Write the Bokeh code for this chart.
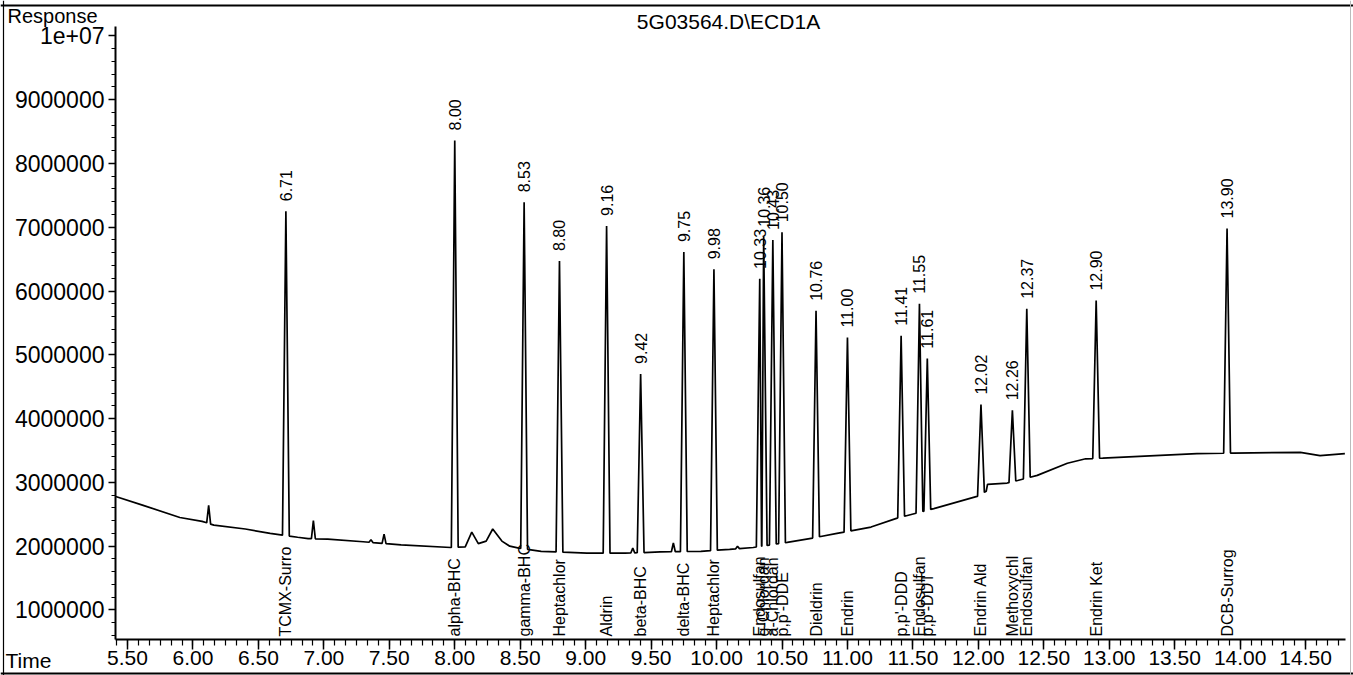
import numpy as np
from bokeh.plotting import figure
from bokeh.models import Range1d, FixedTicker, Label, Span
from bokeh.embed import file_html
from bokeh.resources import INLINE
from bokeh.core.properties import value

# ---------------- data ----------------
# baseline (time in min, response)
base_time = [5.41, 5.62, 5.90, 6.07, 6.16, 6.40, 6.59, 6.80, 6.88, 7.03, 7.30, 7.59, 7.97,
             8.08, 8.13, 8.18, 8.24, 8.29, 8.36, 8.42, 8.49, 8.66, 9.01, 9.30, 9.57, 9.88,
             10.10, 10.28, 10.54, 10.74, 10.92, 11.18, 11.38, 11.66, 11.99, 12.06, 12.07,
             12.22, 12.30, 12.45, 12.68, 12.82, 12.95, 13.67, 13.95, 14.46, 14.61, 14.80]
base_resp = [2.78e6, 2.64e6, 2.45e6, 2.39e6, 2.33e6, 2.27e6, 2.20e6, 2.14e6, 2.12e6, 2.11e6,
             2.07e6, 2.02e6, 1.98e6, 1.99e6, 2.22e6, 2.04e6, 2.08e6, 2.27e6, 2.08e6, 2.00e6,
             1.97e6, 1.92e6, 1.89e6, 1.89e6, 1.91e6, 1.92e6, 1.95e6, 1.98e6, 2.06e6, 2.13e6,
             2.20e6, 2.30e6, 2.44e6, 2.59e6, 2.78e6, 2.86e6, 2.97e6, 2.99e6, 3.03e6, 3.11e6,
             3.30e6, 3.37e6, 3.38e6, 3.45e6, 3.46e6, 3.47e6, 3.42e6, 3.45e6]

# labelled peaks
peak_rt = [6.71, 8.00, 8.53, 8.80, 9.16, 9.42, 9.75, 9.98, 10.33, 10.36, 10.43, 10.50,
           10.76, 11.00, 11.41, 11.55, 11.61, 12.02, 12.26, 12.37, 12.90, 13.90]
peak_apex = [7.25e6, 8.36e6, 7.39e6, 6.47e6, 7.02e6, 4.70e6, 6.61e6, 6.34e6, 6.19e6, 6.85e6,
             6.80e6, 6.92e6, 5.69e6, 5.27e6, 5.30e6, 5.80e6, 4.94e6, 4.22e6, 4.13e6, 5.72e6,
             5.85e6, 6.98e6]
peak_rt_labels = ["6.71", "8.00", "8.53", "8.80", "9.16", "9.42", "9.75", "9.98", "10.33",
                  "10.36", "10.43", "10.50", "10.76", "11.00", "11.41", "11.55", "11.61",
                  "12.02", "12.26", "12.37", "12.90", "13.90"]
compound_names = ["TCMX-Surro", "alpha-BHC", "gamma-BHC", "Heptachlor", "Aldrin", "beta-BHC",
                  "delta-BHC", "Heptachlor", "Endosulfan", "g-Chlordan", "a-Chlordan",
                  "p,p'-DDE", "Dieldrin", "Endrin", "p,p'-DDD", "Endosulfan", "p,p'-DDT",
                  "Endrin Ald", "Methoxychl", "Endosulfan", "Endrin Ket", "DCB-Surrog"]

# small unlabelled peaks
minor_rt = [6.12, 6.92, 7.36, 7.46, 9.36, 9.67, 10.16]
minor_apex = [2.64e6, 2.40e6, 2.10e6, 2.19e6, 1.97e6, 2.05e6, 2.00e6]

# axis ticks
x_tick_values = [5.5, 6.0, 6.5, 7.0, 7.5, 8.0, 8.5, 9.0, 9.5, 10.0, 10.5, 11.0, 11.5, 12.0,
                 12.5, 13.0, 13.5, 14.0, 14.5]
x_tick_labels = ["5.50", "6.00", "6.50", "7.00", "7.50", "8.00", "8.50", "9.00", "9.50",
                 "10.00", "10.50", "11.00", "11.50", "12.00", "12.50", "13.00", "13.50",
                 "14.00", "14.50"]
y_tick_values = [1e6, 2e6, 3e6, 4e6, 5e6, 6e6, 7e6, 8e6, 9e6, 1e7]
y_tick_labels = ["1000000", "2000000", "3000000", "4000000", "5000000", "6000000",
                 "7000000", "8000000", "9000000", "1e+07"]

title_text = "5G03564.D\\ECD1A"
y_title = "Response"
x_title = "Time"

# ---------------- build the trace ----------------
FONT = "Liberation Sans"
W, H = 1353, 675
# axis extents (data) and whole-canvas ranges
AX_X0, AX_X1 = 5.4083, 14.805
AX_Y0, AX_Y1 = 0.5376e6, 10.1458e6
X0, X1 = 4.52979, 14.8659
Y0, Y1 = -0.02665e6, 10.5533e6

all_rt = np.array(peak_rt + minor_rt)
all_ap = np.array(peak_apex + minor_apex)
all_hw = np.array([0.026] * len(peak_rt) + [0.015] * len(minor_rt))
order = np.argsort(all_rt)
all_rt, all_ap, all_hw = all_rt[order], all_ap[order], all_hw[order]

bt = np.array(base_time)
bv = np.array(base_resp)

pts = []
windows = []
for i in range(len(all_rt)):
    rt = all_rt[i]
    lg = rt - all_rt[i - 1] if i > 0 else 1.0
    rg = all_rt[i + 1] - rt if i < len(all_rt) - 1 else 1.0
    lw = min(all_hw[i], lg / 2 - 0.001)
    rw = min(all_hw[i], rg / 2 - 0.001)
    tl, tr = rt - lw, rt + rw
    pts.append((tl, float(np.interp(tl, bt, bv))))
    pts.append((rt, all_ap[i]))
    pts.append((tr, float(np.interp(tr, bt, bv))))
    windows.append((tl, tr))

for t, v in zip(base_time, base_resp):
    if not any(a - 1e-9 <= t <= b + 1e-9 for a, b in windows):
        pts.append((t, v))

pts.sort(key=lambda q: q[0])
trace_t = [q[0] for q in pts]
trace_v = [q[1] for q in pts]

# ---------------- figure (frame covers the whole canvas) ----------------
p = figure(width=W, height=H, output_backend="svg", toolbar_location=None,
           x_range=Range1d(X0, X1), y_range=Range1d(Y0, Y1),
           min_border_left=0, min_border_right=0, min_border_top=0,
           min_border_bottom=0)
p.title.visible = False
p.outline_line_color = None
p.xgrid.visible = False
p.ygrid.visible = False
p.background_fill_color = "white"
p.border_fill_color = "white"

p.line(trace_t, trace_v, line_color="black", line_width=1.7)

p.text(x=peak_rt, y=peak_apex, text=peak_rt_labels, angle=np.pi / 2,
       text_align="left", text_baseline="middle", y_offset=-10,
       text_font=value(FONT), text_font_size="16px", text_color="black")
p.text(x=peak_rt, y=[AX_Y0] * len(peak_rt), text=compound_names, angle=np.pi / 2,
       text_align="left", text_baseline="middle", y_offset=-3,
       text_font=value(FONT), text_font_size="16px", text_color="black")

# axes drawn at fixed positions inside the canvas
x_minor = [5.5 + k / 12 for k in range(-1, 112) if AX_X0 <= 5.5 + k / 12 <= AX_X1]
y_minor = [k * 2e5 for k in range(2, 51) if AX_Y0 <= k * 2e5 <= AX_Y1]
p.xaxis.ticker = FixedTicker(ticks=x_tick_values, minor_ticks=x_minor)
p.xaxis.major_label_overrides = dict(zip(x_tick_values, x_tick_labels))
p.yaxis.ticker = FixedTicker(ticks=y_tick_values, minor_ticks=y_minor)
p.yaxis.major_label_overrides = dict(zip(y_tick_values, y_tick_labels))
p.xaxis.fixed_location = AX_Y0
p.yaxis.fixed_location = AX_X0
p.xaxis.bounds = (AX_X0, AX_X1)
p.yaxis.bounds = (AX_Y0, AX_Y1)

for ax in (p.xaxis[0], p.yaxis[0]):
    ax.axis_line_color = "black"
    ax.axis_line_width = 2
    ax.major_tick_line_color = "black"
    ax.minor_tick_line_color = "black"
    ax.major_tick_line_width = 1.5
    ax.minor_tick_line_width = 1.2
    ax.major_tick_in = 0
    ax.minor_tick_in = 0
    ax.major_label_text_font = FONT
    ax.major_label_text_color = "black"

p.xaxis.major_tick_out = 10
p.xaxis.minor_tick_out = 6
p.xaxis.major_label_text_font_size = "21px"
p.xaxis.major_label_standoff = 1
p.yaxis.major_tick_out = 7
p.yaxis.minor_tick_out = 4
p.yaxis.major_label_text_font_size = "23px"
p.yaxis.major_label_standoff = 4

# texts around the axes (screen units from the canvas bottom-left)
p.add_layout(Label(x=728, y=H - 21, x_units="screen", y_units="screen", text=title_text,
                   text_align="center", text_baseline="alphabetic", text_font=FONT,
                   text_font_size="21px", text_color="black"))
p.add_layout(Label(x=7, y=H - 15, x_units="screen", y_units="screen", text=y_title,
                   text_align="left", text_baseline="alphabetic", text_font=FONT,
                   text_font_size="20px", text_color="black"))
p.add_layout(Label(x=5, y=H - 660, x_units="screen", y_units="screen", text=x_title,
                   text_align="left", text_baseline="alphabetic", text_font=FONT,
                   text_font_size="21px", text_color="black"))

# page frame lines
p.add_layout(Span(location=H - 5, location_units="screen", dimension="width",
                  line_color="black", line_width=2))
p.add_layout(Span(location=H - 673, location_units="screen", dimension="width",
                  line_color="black", line_width=2))
p.add_layout(Span(location=3, location_units="screen", dimension="height",
                  line_color="black", line_width=1.2))
p.add_layout(Span(location=1350, location_units="screen", dimension="height",
                  line_color="#bbbbbb", line_width=1))

open("out.html", "w").write(file_html(p, INLINE))
